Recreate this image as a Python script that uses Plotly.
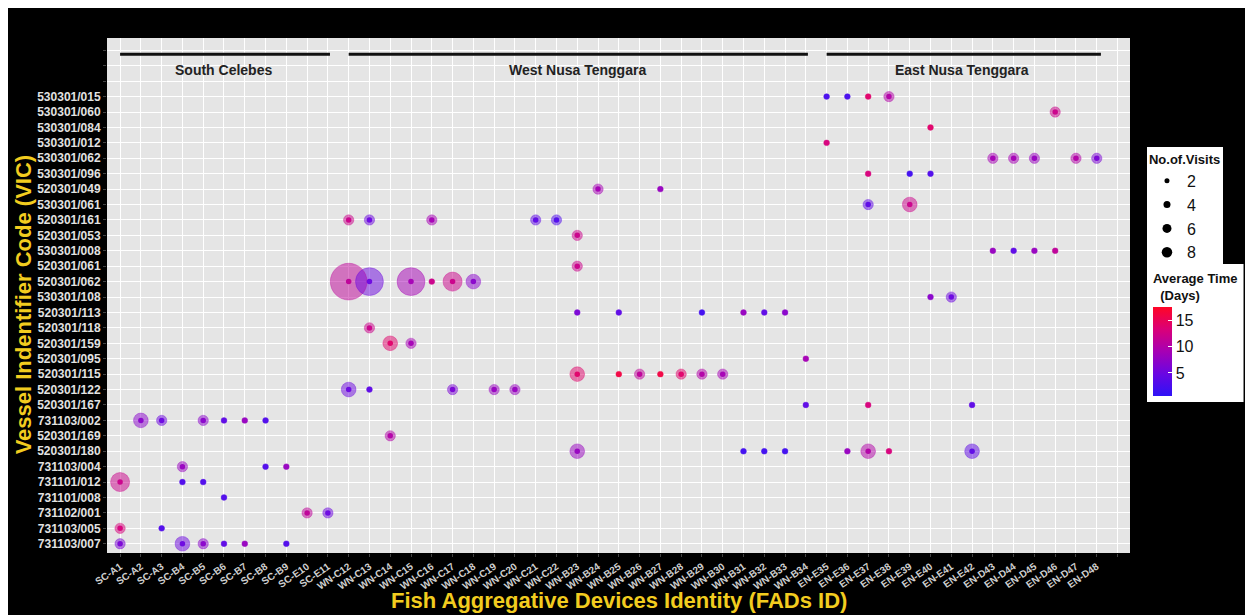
import plotly.graph_objects as go

# ---------------- data ----------------
fads = ["SC-A1", "SC-A2", "SC-A3", "SC-B4", "SC-B5", "SC-B6", "SC-B7", "SC-B8", "SC-B9",
        "SC-E10", "SC-E11", "WN-C12", "WN-C13", "WN-C14", "WN-C15", "WN-C16", "WN-C17",
        "WN-C18", "WN-C19", "WN-C20", "WN-C21", "WN-C22", "WN-B23", "WN-B24", "WN-B25",
        "WN-B26", "WN-B27", "WN-B28", "WN-B29", "WN-B30", "WN-B31", "WN-B32", "WN-B33",
        "WN-B34", "EN-E35", "EN-E36", "EN-E37", "EN-E38", "EN-E39", "EN-E40", "EN-E41",
        "EN-E42", "EN-D43", "EN-D44", "EN-D45", "EN-D46", "EN-D47", "EN-D48"]

# vessel codes, top to bottom
vics = ["530301/015", "530301/060", "530301/084", "530301/012", "530301/062", "530301/096",
        "520301/049", "530301/061", "520301/161", "520301/053", "530301/008", "520301/061",
        "520301/062", "530301/108", "520301/113", "520301/118", "520301/159", "520301/095",
        "520301/115", "520301/122", "520301/167", "731103/002", "520301/169", "520301/180",
        "731103/004", "731101/012", "731101/008", "731102/001", "731103/005", "731103/007"]

regions = ["South Celebes", "West Nusa Tenggara", "East Nusa Tenggara"]
region_first = ["SC-A1", "WN-C12", "EN-E35"]
region_last = ["SC-E11", "WN-B34", "EN-D48"]

point_vic = (["530301/015"] * 4 + ["530301/060"] + ["530301/084"] + ["530301/012"] +
             ["530301/062"] * 5 + ["530301/096"] * 3 + ["520301/049"] * 2 +
             ["530301/061"] * 2 + ["520301/161"] * 5 + ["520301/053"] +
             ["530301/008"] * 4 + ["520301/061"] + ["520301/062"] * 6 +
             ["530301/108"] * 2 + ["520301/113"] * 6 + ["520301/118"] +
             ["520301/159"] * 2 + ["520301/095"] + ["520301/115"] * 7 +
             ["520301/122"] * 5 + ["520301/167"] * 3 + ["731103/002"] * 6 +
             ["520301/169"] + ["520301/180"] * 8 + ["731103/004"] * 3 +
             ["731101/012"] * 3 + ["731101/008"] + ["731102/001"] * 2 +
             ["731103/005"] * 2 + ["731103/007"] * 6)

point_fad = ["EN-E35", "EN-E36", "EN-E37", "EN-E38",
             "EN-D46",
             "EN-E40",
             "EN-E35",
             "EN-D43", "EN-D44", "EN-D45", "EN-D47", "EN-D48",
             "EN-E37", "EN-E39", "EN-E40",
             "WN-B24", "WN-B27",
             "EN-E37", "EN-E39",
             "WN-C12", "WN-C13", "WN-C16", "WN-C21", "WN-C22",
             "WN-B23",
             "EN-D43", "EN-D44", "EN-D45", "EN-D46",
             "WN-B23",
             "WN-C12", "WN-C13", "WN-C15", "WN-C16", "WN-C17", "WN-C18",
             "EN-E40", "EN-E41",
             "WN-B23", "WN-B25", "WN-B29", "WN-B31", "WN-B32", "WN-B33",
             "WN-C13",
             "WN-C14", "WN-C15",
             "WN-B34",
             "WN-B23", "WN-B25", "WN-B26", "WN-B27", "WN-B28", "WN-B29", "WN-B30",
             "WN-C12", "WN-C13", "WN-C17", "WN-C19", "WN-C20",
             "WN-B34", "EN-E37", "EN-E42",
             "SC-A2", "SC-A3", "SC-B5", "SC-B6", "SC-B7", "SC-B8",
             "WN-C14",
             "WN-B23", "WN-B31", "WN-B32", "WN-B33", "EN-E36", "EN-E37", "EN-E38", "EN-E42",
             "SC-B4", "SC-B8", "SC-B9",
             "SC-A1", "SC-B4", "SC-B5",
             "SC-B6",
             "SC-E10", "SC-E11",
             "SC-A1", "SC-A3",
             "SC-A1", "SC-B4", "SC-B5", "SC-B6", "SC-B7", "SC-B9"]

visits = [1, 1, 1, 2,
          2,
          1,
          1,
          2, 2, 2, 2, 2,
          1, 1, 1,
          2, 1,
          2, 3,
          2, 2, 2, 2, 2,
          2,
          1, 1, 1, 1,
          2,
          8, 6, 6, 1, 4, 3,
          1, 2,
          1, 1, 1, 1, 1, 1,
          2,
          3, 2,
          1,
          3, 1, 2, 1, 2, 2, 2,
          3, 1, 2, 2, 2,
          1, 1, 1,
          3, 2, 2, 1, 1, 1,
          2,
          3, 1, 1, 1, 1, 3, 1, 3,
          2, 1, 1,
          4, 1, 1,
          1,
          2, 2,
          2, 1,
          2, 3, 2, 1, 1, 1]

avg_time = [2.5, 2.5, 14, 10,
            12,
            14,
            13,
            9, 9, 8, 10, 6,
            13, 2, 3,
            9, 8,
            4, 12,
            12, 5, 9, 4, 3,
            12,
            8, 4, 8, 11,
            12,
            11, 5, 9, 12, 12, 7,
            7, 5,
            6, 4, 2, 8, 4, 7,
            12,
            14, 9,
            9,
            14, 16, 11, 16, 14, 10, 9,
            5, 4, 6, 8, 8,
            4, 13, 4,
            7, 5, 7, 4, 8, 3,
            10,
            8, 2, 2, 2, 8, 10, 13, 4,
            8, 3, 8,
            12, 3, 3,
            3,
            11, 5,
            13, 3,
            6, 5, 7, 4, 8, 3]

legend_visits = [2, 4, 6, 8]

# ---------------- styling ----------------
colorscale = [[0.0, "#2E12F6"], [0.25, "#6A06E2"], [0.5, "#A600B4"],
              [0.75, "#DA0078"], [1.0, "#FF0626"]]

fad_idx = {f: i for i, f in enumerate(fads)}
n_rows = len(vics)
vic_y = {v: n_rows - 1 - i for i, v in enumerate(vics)}

px_ = [fad_idx[f] for f in point_fad]
py_ = [vic_y[v] for v in point_vic]
halo_size = [1.5 + 4.4 * v for v in visits]

FONT = "Liberation Sans, Arial, sans-serif"

fig = go.Figure()

# translucent circles sized by number of visits
fig.add_trace(go.Scatter(
    x=px_, y=py_, mode="markers", showlegend=False, hoverinfo="skip",
    marker=dict(size=halo_size, color=avg_time, coloraxis="coloraxis",
                opacity=0.5, line=dict(width=0))))

# faint darker rim
fig.add_trace(go.Scatter(
    x=px_, y=py_, mode="markers", showlegend=False, hoverinfo="skip",
    marker=dict(size=halo_size, color=avg_time, coloraxis="coloraxis",
                symbol="circle-open", opacity=0.35, line=dict(width=1))))

# centre dots
fig.add_trace(go.Scatter(
    x=px_, y=py_, mode="markers", showlegend=False, hoverinfo="skip",
    marker=dict(size=5.5, color=avg_time, coloraxis="coloraxis",
                opacity=0.95, line=dict(width=0))))

leg_sizes = [5, 7, 9, 10.5]
for v, s in zip(legend_visits, leg_sizes):
    fig.add_trace(go.Scatter(
        x=[None], y=[None], mode="markers", name=str(v),
        marker=dict(size=s, color="black"), showlegend=True))

shapes = []
annotations = []
for name, a, b in zip(regions, region_first, region_last):
    x0 = fad_idx[a]
    x1 = fad_idx[b] + (0.2 if name == "East Nusa Tenggara" else 0.1)
    shapes.append(dict(type="line", xref="x", yref="y", x0=x0, x1=x1, y0=31.75, y1=31.75,
                       line=dict(color="#111111", width=3)))
    annotations.append(dict(x=(fad_idx[a] + fad_idx[b]) / 2, y=30.72, xref="x", yref="y",
                            text=name, showarrow=False,
                            font=dict(family=FONT, size=14, color="#222222", weight="bold")))

annotations.append(dict(x=0.5, y=-0.093, xref="paper", yref="paper", xanchor="center",
                        yanchor="middle",
                        text="Fish Aggregative Devices Identity (FADs ID)", showarrow=False,
                        font=dict(family=FONT, size=22, color="#F2CC1F", weight="bold")))
annotations.append(dict(x=-0.082, y=0.483, xref="paper", yref="paper", textangle=-90,
                        xanchor="center", yanchor="middle",
                        text="Vessel Indentifier Code (VIC)", showarrow=False,
                        font=dict(family=FONT, size=22, color="#F2CC1F", weight="bold")))

fig.update_layout(
    width=1245, height=607,
    margin=dict(l=99, r=123, t=30, b=62, autoexpand=False),
    paper_bgcolor="black", plot_bgcolor="#E5E5E5",
    shapes=shapes, annotations=annotations,
    coloraxis=dict(
        colorscale=colorscale, cmin=0.63, cmax=17.5,
        colorbar=dict(
            title=dict(text="Average Time<br>  (Days)", side="top",
                       font=dict(family=FONT, size=13, color="#111111", weight="bold")),
            tickvals=[5, 10, 15], ticks="inside", ticklen=4, tickcolor="white",
            tickfont=dict(family=FONT, size=16, color="#111111"),
            thickness=19, lenmode="pixels", len=138,
            x=1.0166, xanchor="left", y=(553 - 264) / 515, yanchor="top",
            bgcolor="white", outlinewidth=0, xpad=6, ypad=6)),
    legend=dict(
        title=dict(text="No.of.Visits", font=dict(family=FONT, size=13, color="#111111",
                                                   weight="bold")),
        font=dict(family=FONT, size=16, color="#111111"),
        bgcolor="white", x=1.0166, xanchor="left", y=(553 - 147) / 515, yanchor="top",
        itemsizing="trace", tracegroupgap=0),
    xaxis=dict(
        range=[-0.63, 48.6], tickmode="array",
        tickvals=list(range(len(fads) + 1)), ticktext=fads + [""],
        tickangle=-35, showgrid=True, gridcolor="white", gridwidth=1, zeroline=False,
        ticks="outside", ticklen=3, tickcolor="#444444",
        tickfont=dict(family=FONT, size=10, color="#CFCFCF", weight="bold")),
    yaxis=dict(
        range=[-0.6, 32.8], tickmode="array",
        tickvals=list(range(n_rows + 3)),
        ticktext=[vics[n_rows - 1 - i] for i in range(n_rows)] + ["", "", ""],
        showgrid=True, gridcolor="white", gridwidth=1, zeroline=False,
        ticks="outside", ticklen=3, tickcolor="#444444",
        tickfont=dict(family=FONT, size=12, color="#E2E2E2", weight="bold")),
)

fig.write_html("out.html")
